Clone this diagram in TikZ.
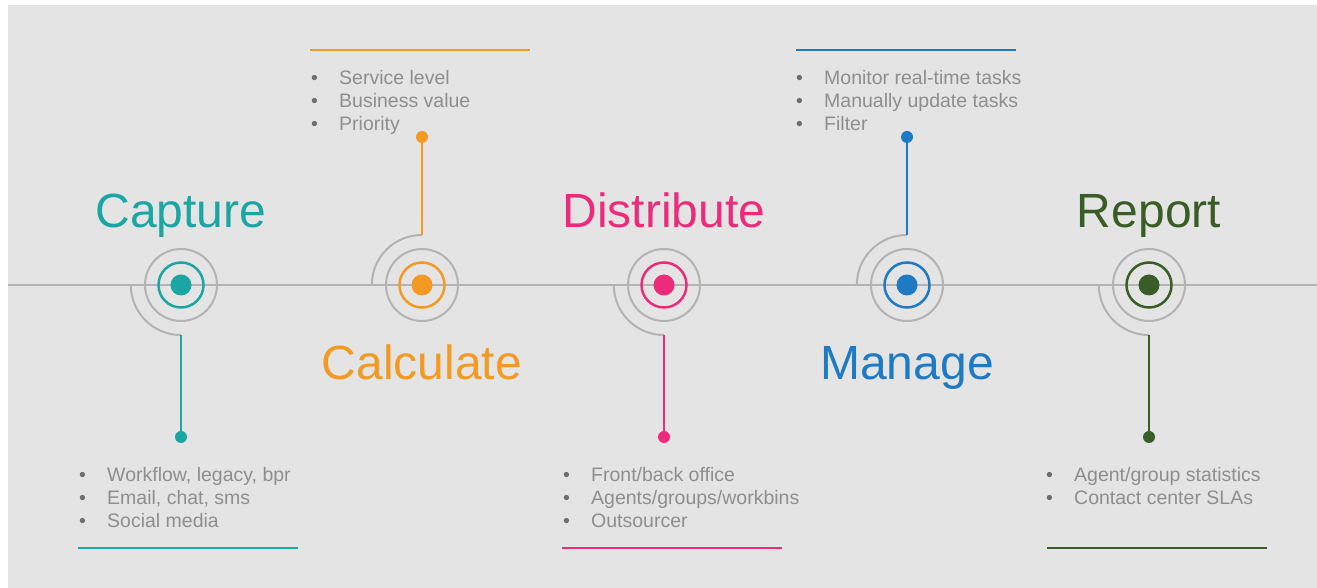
\documentclass[tikz,border=0pt]{standalone}
\usepackage{fontspec}
\setmainfont{Liberation Sans}
\usetikzlibrary{positioning}

\definecolor{backgr}{HTML}{E4E4E4}
\definecolor{trackgray}{HTML}{B3B3B3}
\definecolor{listgray}{HTML}{8E8E8E}
\definecolor{dotgray}{HTML}{6E6E6E}
\definecolor{capcol}{HTML}{1AA6A3}
\definecolor{calcol}{HTML}{F29A21}
\definecolor{discol}{HTML}{EC2C7B}
\definecolor{mancol}{HTML}{1E7BC3}
\definecolor{repcol}{HTML}{3A5C26}

\newcommand{\itm}[1]{\makebox[28pt][l]{\textcolor{dotgray}{\textbullet}}#1}

\tikzset{
  track/.style={draw=trackgray, line width=2pt},
  reach/.style={circle, minimum size=100pt, inner sep=0pt},
  halo/.style={circle, draw=trackgray, line width=2pt, minimum size=72pt, inner sep=0pt},
  ring/.style={circle, draw=#1, line width=2.5pt, minimum size=45pt, inner sep=0pt},
  core/.style={circle, fill=#1, minimum size=21pt, inner sep=0pt},
  tip/.style={circle, fill=#1, minimum size=12pt, inner sep=0pt},
  link/.style={draw=#1, line width=2.5pt},
  rule/.style={draw=#1, line width=2.5pt},
  title/.style={text=#1, font=\fontsize{48}{48}\selectfont, anchor=base, inner sep=0pt},
  entry/.style={text=listgray, font=\fontsize{19.5}{23}\selectfont, anchor=base west, inner sep=0pt}
}

\begin{document}
\begin{tikzpicture}[x=1pt, y=1pt]
  \useasboundingbox (0,0) rectangle (1317,588);
  \fill[backgr] (8,0) rectangle (1317,583);
  \draw[track] (8,303) -- (1317,303);

  % capture
  \node (capture-o) [reach] at (181,303) {};
  \node (capture-h) [halo] at (capture-o.center) {};
  \node (capture) [ring=capcol] at (capture-o.center) {};
  \node (capture-c) [core=capcol] at (capture-o.center) {};
  \node (capture-e) [tip=capcol] at (181,151) {};
  \draw[track] (capture-o.west) arc[start angle=180, end angle=270, radius=50pt];
  \draw[link=capcol] (capture-o.south) -- (capture-e);
  \node (capture-t) [title=capcol] at (181,360) {Capture};
  \foreach \t [count=\i] in {{Workflow, legacy, bpr},{Email, chat, sms},{Social media}}
    \node (capture-l\i) [entry] at (79,129-23*\i) {\itm{\t}};
  \draw[rule=capcol] (78,40) -- (298,40);

  % calculate
  \node (calc-o) [reach] at (422,303) {};
  \node (calc-h) [halo] at (calc-o.center) {};
  \node (calc) [ring=calcol] at (calc-o.center) {};
  \node (calc-c) [core=calcol] at (calc-o.center) {};
  \node (calc-e) [tip=calcol] at (422,451) {};
  \draw[track] (calc-o.west) arc[start angle=180, end angle=90, radius=50pt];
  \draw[link=calcol] (calc-o.north) -- (calc-e);
  \node (calc-t) [title=calcol] at (422,208) {Calculate};
  \foreach \t [count=\i] in {{Service level},{Business value},{Priority}}
    \node (calc-l\i) [entry] at (311,526-23*\i) {\itm{\t}};
  \draw[rule=calcol] (310,538) -- (530,538);

  % distribute
  \node (dist-o) [reach] at (664,303) {};
  \node (dist-h) [halo] at (dist-o.center) {};
  \node (dist) [ring=discol] at (dist-o.center) {};
  \node (dist-c) [core=discol] at (dist-o.center) {};
  \node (dist-e) [tip=discol] at (664,151) {};
  \draw[track] (dist-o.west) arc[start angle=180, end angle=270, radius=50pt];
  \draw[link=discol] (dist-o.south) -- (dist-e);
  \node (dist-t) [title=discol] at (664,360) {Distribute};
  \foreach \t [count=\i] in {{Front/back office},{Agents/groups/workbins},{Outsourcer}}
    \node (dist-l\i) [entry] at (563,129-23*\i) {\itm{\t}};
  \draw[rule=discol] (562,40) -- (782,40);

  % manage
  \node (manage-o) [reach] at (907,303) {};
  \node (manage-h) [halo] at (manage-o.center) {};
  \node (manage) [ring=mancol] at (manage-o.center) {};
  \node (manage-c) [core=mancol] at (manage-o.center) {};
  \node (manage-e) [tip=mancol] at (907,451) {};
  \draw[track] (manage-o.west) arc[start angle=180, end angle=90, radius=50pt];
  \draw[link=mancol] (manage-o.north) -- (manage-e);
  \node (manage-t) [title=mancol] at (907,208) {Manage};
  \foreach \t [count=\i] in {{Monitor real-time tasks},{Manually update tasks},{Filter}}
    \node (manage-l\i) [entry] at (796,526-23*\i) {\itm{\t}};
  \draw[rule=mancol] (796,538) -- (1016,538);

  % report
  \node (report-o) [reach] at (1149,303) {};
  \node (report-h) [halo] at (report-o.center) {};
  \node (report) [ring=repcol] at (report-o.center) {};
  \node (report-c) [core=repcol] at (report-o.center) {};
  \node (report-e) [tip=repcol] at (1149,151) {};
  \draw[track] (report-o.west) arc[start angle=180, end angle=270, radius=50pt];
  \draw[link=repcol] (report-o.south) -- (report-e);
  \node (report-t) [title=repcol] at (1149,360) {Report};
  \foreach \t [count=\i] in {{Agent/group statistics},{Contact center SLAs}}
    \node (report-l\i) [entry] at (1046,129-23*\i) {\itm{\t}};
  \draw[rule=repcol] (1047,40) -- (1267,40);
\end{tikzpicture}
\end{document}
